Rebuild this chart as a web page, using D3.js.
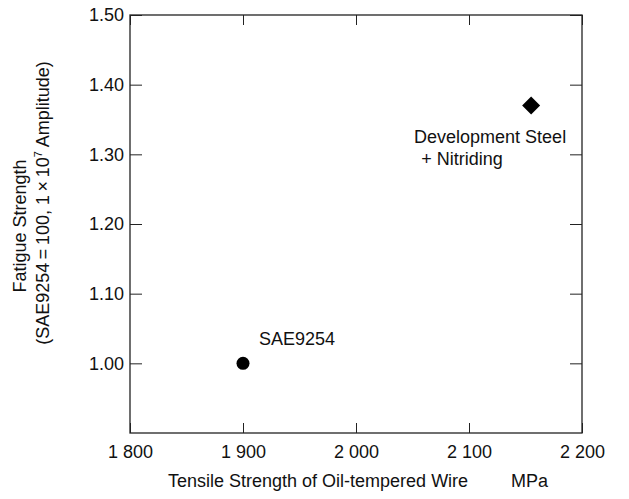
<!DOCTYPE html>
<html><head><meta charset="utf-8">
<script src="https://cdn.jsdelivr.net/npm/d3@7"></script>
<style>body{margin:0;background:#fff}text{font-family:"Liberation Sans",Arial,sans-serif;fill:#111}</style>
</head><body>
<svg id="c" width="629" height="499"></svg>
<script>
const xTicks = [1800, 1900, 2000, 2100, 2200];
const xTickLabels = ["1 800", "1 900", "2 000", "2 100", "2 200"];
const yTicks = [1.00, 1.10, 1.20, 1.30, 1.40, 1.50];
const yTickLabels = ["1.00", "1.10", "1.20", "1.30", "1.40", "1.50"];
const seriesNames = ["SAE9254", "Development Steel + Nitriding"];
const tensile = [1900, 2155];
const fatigue = [1.00, 1.37];

const svg = d3.select("#c");
const L = 130, R = 582, T = 15, B = 433;
const x = d3.scaleLinear().domain([1800, 2200]).range([L, R]);
const y = d3.scaleLinear().domain([0.9, 1.5]).range([B, T]);
const fs = 18;

// frame
svg.append("rect").attr("x", L).attr("y", T).attr("width", R - L).attr("height", B - T)
  .attr("fill", "none").attr("stroke", "#222").attr("stroke-width", 1.3);

// bottom axis
const bx = svg.append("g").attr("transform", `translate(0,${B})`)
  .call(d3.axisBottom(x).tickValues(xTicks).tickSizeInner(-10).tickSizeOuter(0).tickPadding(12)
    .tickFormat((d, i) => xTickLabels[i]));
bx.select(".domain").remove();
bx.selectAll("line").attr("stroke", "#222");
bx.selectAll("text").attr("font-size", fs).attr("font-family", "Liberation Sans, Arial, sans-serif").attr("fill", "#111");
// top ticks
const tx = svg.append("g").attr("transform", `translate(0,${T})`)
  .call(d3.axisTop(x).tickValues(xTicks).tickSizeInner(-10).tickSizeOuter(0).tickFormat(""));
tx.select(".domain").remove();
tx.selectAll("line").attr("stroke", "#222");

// left axis
const ly = svg.append("g").attr("transform", `translate(${L},0)`)
  .call(d3.axisLeft(y).tickValues(yTicks).tickSizeInner(-12).tickSizeOuter(0).tickPadding(6)
    .tickFormat((d, i) => yTickLabels[i]));
ly.select(".domain").remove();
ly.selectAll("line").attr("stroke", "#222");
ly.selectAll("text").attr("font-size", fs).attr("font-family", "Liberation Sans, Arial, sans-serif").attr("fill", "#111");
// right ticks
const ry = svg.append("g").attr("transform", `translate(${R},0)`)
  .call(d3.axisRight(y).tickValues(yTicks).tickSizeInner(-12).tickSizeOuter(0).tickFormat(""));
ry.select(".domain").remove();
ry.selectAll("line").attr("stroke", "#222");

// points
svg.append("circle").attr("cx", x(tensile[0])).attr("cy", y(fatigue[0])).attr("r", 6.5).attr("fill", "#000");
svg.append("path").attr("transform", `translate(${x(tensile[1])},${y(fatigue[1])})`)
  .attr("d", "M0,-9L9,0L0,9L-9,0Z").attr("fill", "#000");

// annotations
svg.append("text").attr("x", x(tensile[0]) + 16).attr("y", y(fatigue[0]) - 18)
  .attr("font-size", fs).text(seriesNames[0]);
svg.append("text").attr("x", x(tensile[1]) + 35).attr("y", y(fatigue[1]) + 37)
  .attr("text-anchor", "end").attr("font-size", fs).text("Development Steel");
svg.append("text").attr("x", x(tensile[1]) - 110).attr("y", y(fatigue[1]) + 59)
  .attr("font-size", fs).text("+ Nitriding");

// axis titles
svg.append("text").attr("x", 168).attr("y", 487).attr("font-size", fs).text("Tensile Strength of Oil-tempered Wire");
svg.append("text").attr("x", 511).attr("y", 487).attr("font-size", fs).text("MPa");

const yt1 = svg.append("text").attr("transform", "translate(26,226) rotate(-90)")
  .attr("text-anchor", "middle").attr("font-size", fs).text("Fatigue Strength");
const yt2 = svg.append("text").attr("transform", "translate(49,203) rotate(-90)")
  .attr("text-anchor", "middle").attr("font-size", fs);
yt2.append("tspan").text("(SAE9254\u2009=\u2009100, 1\u2009\u00d7\u200910");
yt2.append("tspan").attr("dy", -7).attr("font-size", 11).text("7");
yt2.append("tspan").attr("dy", 7).text(" Amplitude)");
</script>
</body></html>
